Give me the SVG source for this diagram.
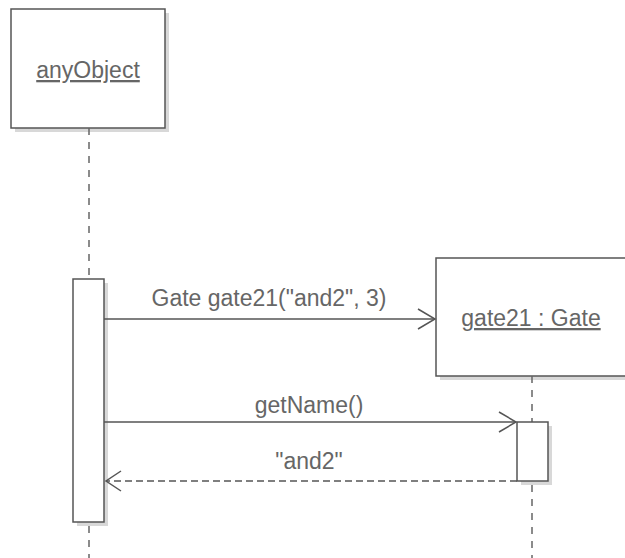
<svg xmlns="http://www.w3.org/2000/svg" width="625" height="558" viewBox="0 0 625 558">
<style>
.box{fill:#fff;stroke:#555;stroke-width:1.5}
.shadow{fill:#d8d8d8}
.life{stroke:#666;stroke-width:1.5;stroke-dasharray:7 7;fill:none}
.msg{stroke:#555;stroke-width:1.5;fill:none}
.ret{stroke:#555;stroke-width:1.5;fill:none;stroke-dasharray:7 4}
.head{stroke:#555;stroke-width:1.5;fill:none}
text{font-family:"Liberation Sans",Arial,sans-serif;font-size:23px;fill:#666}
</style>
<rect width="625" height="558" fill="#fff"/>
<g id="anyObject">
<rect class="shadow" x="15" y="13" width="154" height="119"/>
<rect class="box" x="11" y="9" width="154" height="119"/>
<text x="88" y="78" text-anchor="middle" text-decoration="underline">anyObject</text>
</g>
<g id="gate21">
<rect class="shadow" x="440" y="262" width="190" height="118"/>
<rect class="box" x="436" y="258" width="194" height="118"/>
<text x="531" y="326" text-anchor="middle" text-decoration="underline">gate21 : Gate</text>
</g>
<g id="lifelines">
<line class="life" x1="89" y1="128" x2="89" y2="279"/>
<line class="life" x1="89" y1="526" x2="89" y2="558"/>
<line class="life" x1="532" y1="376" x2="532" y2="422"/>
<line class="life" x1="532" y1="485" x2="532" y2="558"/>
</g>
<g id="activation1">
<rect class="shadow" x="77" y="283" width="31" height="243"/>
<rect class="box" x="73" y="279" width="31" height="243"/>
</g>
<g id="activation2">
<rect class="shadow" x="521" y="426" width="31" height="59"/>
<rect class="box" x="517" y="422" width="31" height="59"/>
</g>
<g id="connectors">
<line class="msg" x1="104" y1="319" x2="435" y2="319"/>
<polyline class="head" points="418,309 435,319 418,329"/>
<text x="269" y="306" text-anchor="middle">Gate gate21("and2", 3)</text>
<line class="msg" x1="104" y1="422" x2="516" y2="422"/>
<polyline class="head" points="499,412 516,422 499,432"/>
<text x="309" y="413" text-anchor="middle">getName()</text>
<line class="ret" x1="517" y1="481" x2="106" y2="481"/>
<polyline class="head" points="121,471 106,481 121,491"/>
<text x="309" y="469" text-anchor="middle">"and2"</text>
</g>
</svg>
